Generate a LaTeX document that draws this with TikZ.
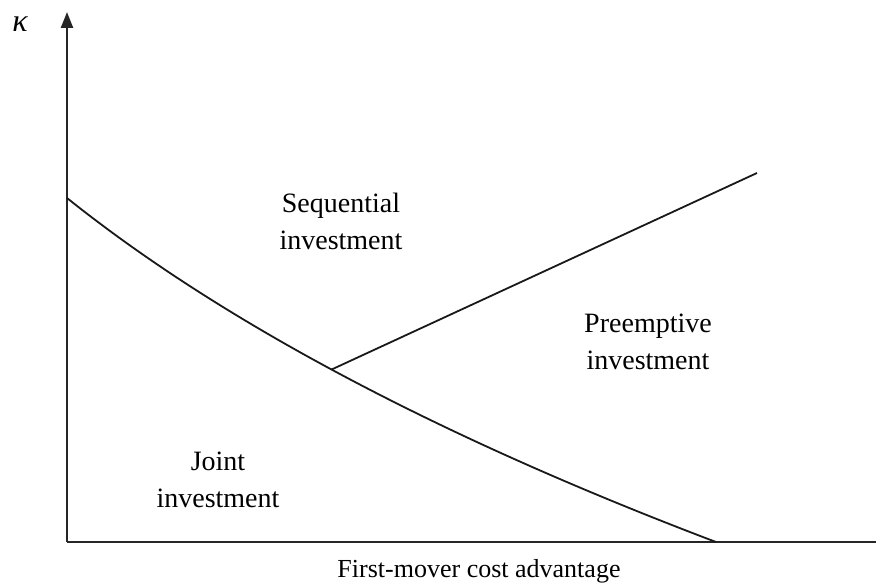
\documentclass[tikz,border=0pt]{standalone}
\usepackage{fontspec}
\setmainfont{Liberation Serif}
\usetikzlibrary{arrows.meta}

\tikzset{
  axisline/.style={line width=2.4pt, draw=black!85},
  boundary/.style={line width=1.8pt, draw=black!90},
  region/.style={align=center, inner sep=0pt, font=\fontsize{28}{37}\selectfont},
  axislabel/.style={inner sep=0pt, font=\fontsize{26}{30}\selectfont},
}

\begin{document}
\begin{tikzpicture}[x=1pt, y=1pt]
  \useasboundingbox (0,0) rectangle (876,584);

  % axes
  \coordinate (O) at (67,42);
  \coordinate (ytop) at (67,572);
  \coordinate (xend) at (876,42);
  \draw[axisline] (xend) -- (O);
  \draw[axisline, -{Triangle[length=16pt,width=12pt]}] (O) -- (ytop);

  % joint / sequential boundary, and the point where the preemption line starts
  \coordinate (c0) at (67,386);
  \coordinate (c1) at (716,42);
  \draw[boundary] (c0) .. controls (222,262) and (439,147) .. (c1)
    coordinate[pos=0.478] (J);

  % sequential / preemptive boundary
  \coordinate (pend) at (757,411);
  \draw[boundary] (J) -- (pend);

  % labels
  \node[inner sep=0pt, font=\fontsize{32}{36}\selectfont] (kappa) at (20,560) {\itshape κ};
  \node[axislabel] (xlab) at (479,13) {First-mover cost advantage};
  \node[region] (seq) at (341,363) {Sequential\\investment};
  \node[region] (pre) at (648,242) {Preemptive\\investment};
  \node[region] (joint) at (218,104) {Joint\\investment};
\end{tikzpicture}
\end{document}
